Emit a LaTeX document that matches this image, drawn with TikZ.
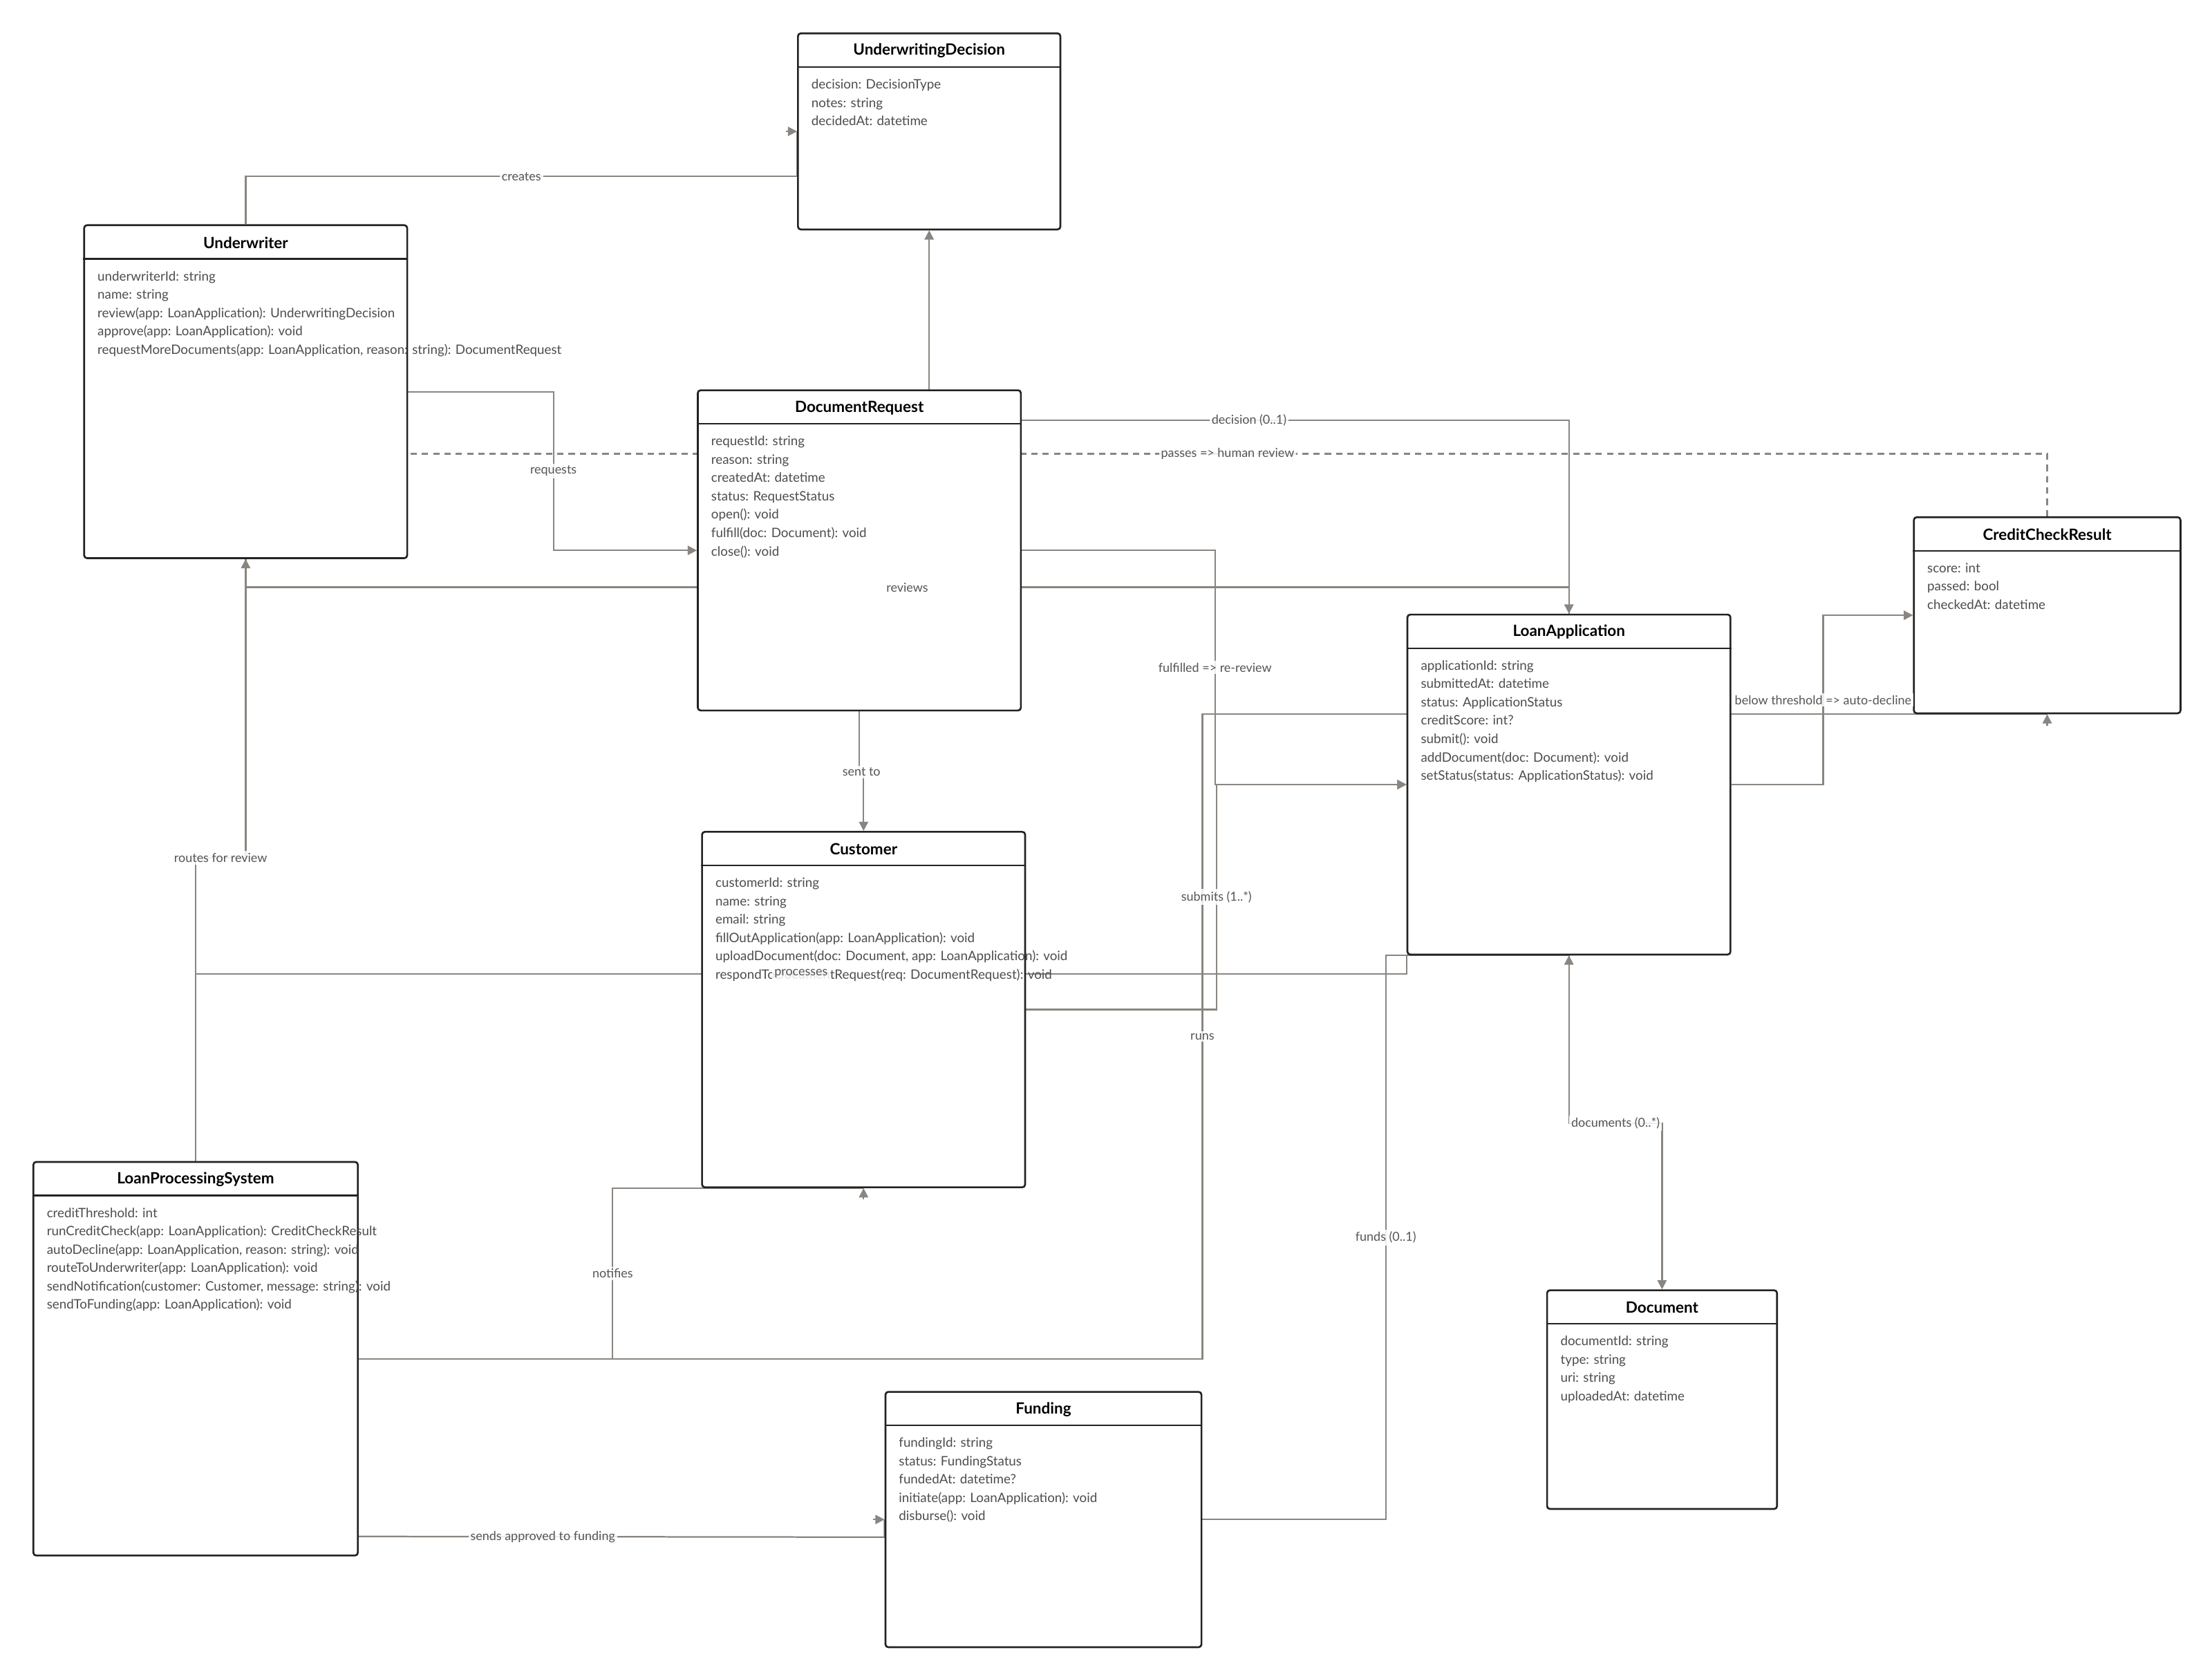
\documentclass[tikz,border=0pt]{standalone}
\usepackage{fontspec}
\setmainfont{Lato}
\usetikzlibrary{arrows.meta,calc}
\definecolor{conngray}{HTML}{8A8580}
\definecolor{boxline}{HTML}{222222}
\definecolor{membergray}{HTML}{4D4D4D}
\definecolor{lblgray}{HTML}{555555}
\pgfdeclarelayer{lines}
\pgfsetlayers{lines,main}
\tikzset{
  classbox/.style={draw=boxline,line width=1.3pt,fill=white,rounded corners=2pt,anchor=north west,inner sep=0pt},
  ctitle/.style={font=\fontsize{11}{13}\selectfont\bfseries,text=black,inner sep=0pt},
  members/.style={anchor=north west,align=left,inner sep=0pt,font=\fontsize{9.2}{13}\selectfont,text=membergray},
  divider/.style={draw=boxline,line width=1.1pt},
  conn/.style={draw=conngray,line width=1.1pt},
  tip/.style={-{Triangle[length=6.5pt,width=6.5pt]}},
  lbl/.style={fill=white,fill opacity=.85,text opacity=1,text=lblgray,font=\fontsize{8.8}{10}\selectfont,inner sep=1.5pt},
}
\begin{document}
\begin{tikzpicture}[x=1pt,y=-1pt]
\useasboundingbox (0,0) rectangle (1568,1190);
% classes
\node[classbox,minimum width=186,minimum height=139] (ud) at (565,23) {};
\node[ctitle] at ($(ud.north)+(0,13)$) {UnderwritingDecision};
\draw[divider] ($(ud.north west)+(0,24.5)$) -- ($(ud.north east)+(0,24.5)$);
\node[members] at ($(ud.north west)+(10,33)$) {decision: DecisionType\\notes: string\\decidedAt: datetime};

\node[classbox,minimum width=229,minimum height=236] (uw) at (59,159) {};
\node[ctitle] at ($(uw.north)+(0,13)$) {Underwriter};
\draw[divider] ($(uw.north west)+(0,24.5)$) -- ($(uw.north east)+(0,24.5)$);
\node[members] at ($(uw.north west)+(10,33)$) {underwriterId: string\\name: string\\review(app: LoanApplication): UnderwritingDecision\\approve(app: LoanApplication): void\\requestMoreDocuments(app: LoanApplication, reason: string): DocumentRequest};

\node[classbox,minimum width=229,minimum height=227] (dr) at (494,276) {};
\node[ctitle] at ($(dr.north)+(0,13)$) {DocumentRequest};
\draw[divider] ($(dr.north west)+(0,24.5)$) -- ($(dr.north east)+(0,24.5)$);
\node[members] at ($(dr.north west)+(10,33)$) {requestId: string\\reason: string\\createdAt: datetime\\status: RequestStatus\\open(): void\\fulfill(doc: Document): void\\close(): void};

\node[classbox,minimum width=189,minimum height=139] (ccr) at (1356,366) {};
\node[ctitle] at ($(ccr.north)+(0,13)$) {CreditCheckResult};
\draw[divider] ($(ccr.north west)+(0,24.5)$) -- ($(ccr.north east)+(0,24.5)$);
\node[members] at ($(ccr.north west)+(10,33)$) {score: int\\passed: bool\\checkedAt: datetime};

\node[classbox,minimum width=229,minimum height=241] (la) at (997,435) {};
\node[ctitle] at ($(la.north)+(0,13)$) {LoanApplication};
\draw[divider] ($(la.north west)+(0,24.5)$) -- ($(la.north east)+(0,24.5)$);
\node[members] at ($(la.north west)+(10,33)$) {applicationId: string\\submittedAt: datetime\\status: ApplicationStatus\\creditScore: int?\\submit(): void\\addDocument(doc: Document): void\\setStatus(status: ApplicationStatus): void};

\node[classbox,minimum width=229,minimum height=252] (cu) at (497,589) {};
\node[ctitle] at ($(cu.north)+(0,13)$) {Customer};
\draw[divider] ($(cu.north west)+(0,24.5)$) -- ($(cu.north east)+(0,24.5)$);
\node[members] at ($(cu.north west)+(10,33)$) {customerId: string\\name: string\\email: string\\fillOutApplication(app: LoanApplication): void\\uploadDocument(doc: Document, app: LoanApplication): void\\respondToDocumentRequest(req: DocumentRequest): void};

\node[classbox,minimum width=230,minimum height=279] (lps) at (23,823) {};
\node[ctitle] at ($(lps.north)+(0,13)$) {LoanProcessingSystem};
\draw[divider] ($(lps.north west)+(0,24.5)$) -- ($(lps.north east)+(0,24.5)$);
\node[members] at ($(lps.north west)+(10,33)$) {creditThreshold: int\\runCreditCheck(app: LoanApplication): CreditCheckResult\\autoDecline(app: LoanApplication, reason: string): void\\routeToUnderwriter(app: LoanApplication): void\\sendNotification(customer: Customer, message: string): void\\sendToFunding(app: LoanApplication): void};

\node[classbox,minimum width=163,minimum height=155] (doc) at (1096,914) {};
\node[ctitle] at ($(doc.north)+(0,13)$) {Document};
\draw[divider] ($(doc.north west)+(0,24.5)$) -- ($(doc.north east)+(0,24.5)$);
\node[members] at ($(doc.north west)+(10,33)$) {documentId: string\\type: string\\uri: string\\uploadedAt: datetime};

\node[classbox,minimum width=224,minimum height=181] (fund) at (627,986) {};
\node[ctitle] at ($(fund.north)+(0,13)$) {Funding};
\draw[divider] ($(fund.north west)+(0,24.5)$) -- ($(fund.north east)+(0,24.5)$);
\node[members] at ($(fund.north west)+(10,33)$) {fundingId: string\\status: FundingStatus\\fundedAt: datetime?\\initiate(app: LoanApplication): void\\disburse(): void};

% connectors, behind the boxes
\begin{pgfonlayer}{lines}
  \fill[white] (0,0) rectangle (1568,1190);
  \draw[conn] (uw.north) -- ++(0,-34) -| coordinate[pos=.25] (cCreates) (ud.west);
  \draw[conn,tip] ($(ud.west)+(-8,0)$) -- (ud.west);
  \draw[conn,tip] (la.north) -- ++(0,-137) -| coordinate[pos=.25] (cDecision) (ud.south);
  \draw[conn,tip] (uw.east) -- ++(103,0) |- coordinate[pos=.25] (cRequests) (dr.west);
  \draw[conn,tip] (uw.south) -- ++(0,20) -| coordinate[pos=.25] (cReviews) (la.north);
  \draw[conn,tip] (lps.north) -- ++(0,-215) -| coordinate[pos=.25] (cRoutes) (uw.south);
  \draw[conn,dash pattern=on 4.5pt off 3.5pt] (ccr.north) |- coordinate[pos=.75] (cPasses) ($(uw.east)+(0,44)$);
  \draw[conn,tip] (dr.east) -- ++(137,0) |- coordinate[pos=.25] (cFulfilled) (la.west);
  \draw[conn,tip] (cu.east) -- ++(135,0) |- coordinate[pos=.25] (cSubmits) (la.west);
  \draw[conn,tip] (la.east) -- ++(65,0) |- coordinate[pos=.25] (cBelow) (ccr.west);
  \draw[conn] (lps.east) -- ++(598,0) |- coordinate[pos=.25] (cRuns) (ccr.south);
  \draw[conn,tip] ($(ccr.south)+(0,8)$) -- (ccr.south);
  \draw[conn] (lps.north) |- coordinate[pos=.75] (cProcesses) ($(la.south west)+(0,13)$) -- (la.south west) -- (la.south);
  \draw[conn] (fund.east) -- ++(130,0) |- coordinate[pos=.25] (cFunds) (la.south);
  \draw[conn,tip] ($(la.south)+(0,8)$) -- (la.south);
  \draw[conn,tip] (la.south) -- ++(0,119) -| coordinate[pos=.25] (cDocs) (doc.north);
  \draw[conn] (lps.east) -- ++(180,0) |- coordinate[pos=.25] (cNotifies) (cu.south);
  \draw[conn,tip] ($(cu.south)+(0,8)$) -- (cu.south);
  \draw[conn,tip] (dr.south) -- ++(0,43) -| coordinate[pos=.25] (cSent) (cu.north);
  \draw[conn] ($(lps.east)+(0,126)$) -- coordinate[pos=.35] (cSends) ($(fund.west)+(0,12.5)$) -- (fund.west);
  \draw[conn,tip] ($(fund.west)+(-8,0)$) -- (fund.west);
\end{pgfonlayer}

% connector labels
\node[lbl] at (cCreates) {creates};
\node[lbl] at (cDecision) {decision (0..1)};
\node[lbl] at (cRequests) {requests};
\node[lbl] at (cReviews) {reviews};
\node[lbl] at (cRoutes) {routes for review};
\node[lbl] at (cPasses) {passes => human review};
\node[lbl] at (cFulfilled) {fulfilled => re-review};
\node[lbl] at (cSubmits) {submits (1..*)};
\node[lbl] at (cBelow) {below threshold => auto-decline};
\node[lbl] at (cRuns) {runs};
\node[lbl] at (cProcesses) {processes};
\node[lbl] at (cFunds) {funds (0..1)};
\node[lbl] at (cDocs) {documents (0..*)};
\node[lbl] at (cNotifies) {notifies};
\node[lbl] at (cSent) {sent to};
\node[lbl] at (cSends) {sends approved to funding};
\end{tikzpicture}
\end{document}
